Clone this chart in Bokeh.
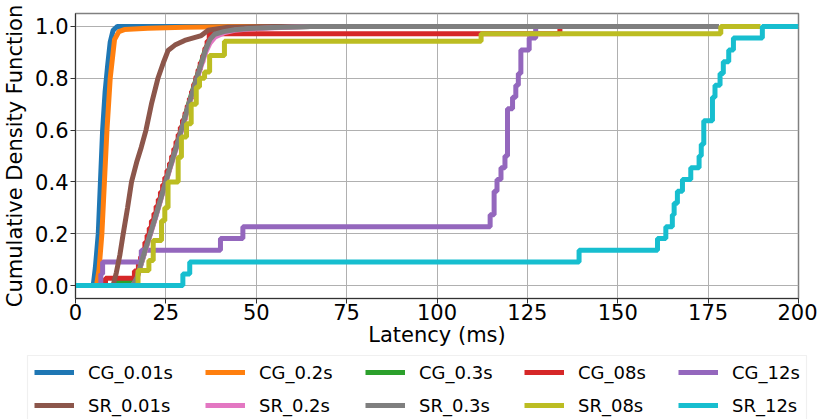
from bokeh.plotting import figure
from bokeh.models import (Range1d, FixedTicker, NumeralTickFormatter, Legend,
                          LegendItem, BoxAnnotation)
from bokeh.embed import file_html
from bokeh.resources import INLINE

# ---------------- data ----------------
cg001_x = [0, 4.9, 5.5, 6.3, 6.9, 7.5, 8.2, 8.9, 9.6, 10.4, 11.6, 175]
cg001_y = [0, 0, 0.07, 0.2, 0.4, 0.6, 0.75, 0.85, 0.94, 0.985, 1.0, 1.0]

cg02_x = [0, 5.8, 6.5, 7.3, 8.0, 8.7, 9.6, 10.8, 12.0, 13.5, 20, 30, 45, 170]
cg02_y = [0, 0, 0.06, 0.2, 0.4, 0.6, 0.8, 0.95, 0.98, 0.988, 0.993, 0.997, 1.0, 1.0]

cg03_x = [0, 10.8, 10.8, 16.3, 17.2, 18.0, 20, 22, 24, 26, 28, 30, 32, 34, 36,
          37.5, 39, 42, 46, 55, 65, 170]
cg03_y = [0, 0, 0.013, 0.013, 0.04, 0.075, 0.17, 0.26, 0.355, 0.45, 0.545, 0.64,
          0.735, 0.825, 0.915, 0.955, 0.975, 0.985, 0.99, 0.997, 1.0, 1.0]

cg08_x = [0, 8.3, 16.3, 17.4, 18.0, 18.6, 19.2, 19.8, 20.4, 21.0, 21.7, 22.3, 22.9,
          23.5, 24.1, 24.7, 25.3, 26.0, 26.6, 27.2, 27.8, 28.4, 29.0, 29.6, 30.3,
          30.9, 31.5, 32.1, 32.7, 33.3, 33.9, 34.5, 35.2, 35.8, 36.4, 37.0, 134, 175]
cg08_y = [0, 0.028, 0.056, 0.083, 0.111, 0.139, 0.167, 0.194, 0.222, 0.25, 0.278,
          0.306, 0.333, 0.361, 0.389, 0.417, 0.444, 0.472, 0.5, 0.528, 0.556, 0.583,
          0.611, 0.639, 0.667, 0.694, 0.722, 0.75, 0.778, 0.806, 0.833, 0.861, 0.889,
          0.917, 0.944, 0.972, 1.0, 1.0]

cg12_x = [0, 7.0, 7.5, 18.2, 40.1, 46.3, 114.7, 115.8, 116.6, 117.7, 118.8, 119.5,
          120.9, 121.8, 122.5, 123.2, 125.5, 127.3, 175]
cg12_y = [0, 0.045, 0.091, 0.136, 0.182, 0.227, 0.273, 0.364, 0.409, 0.455, 0.5,
          0.682, 0.727, 0.773, 0.818, 0.909, 0.955, 1.0, 1.0]

sr001_x = [0, 10.4, 11.3, 12.3, 13.2, 14.4, 15.5, 17.0, 18.2, 19.5, 21.0, 22.8, 24.3,
           25.6, 27.5, 30.2, 34.8, 36.7, 42.2, 55, 178]
sr001_y = [0, 0, 0.05, 0.12, 0.2, 0.3, 0.4, 0.48, 0.534, 0.6, 0.7, 0.8, 0.86, 0.907,
           0.928, 0.946, 0.965, 0.985, 0.997, 1.0, 1.0]

sr02_x = [0, 15.8, 17.0, 18.0, 20, 22, 24, 26, 28, 30, 32, 34, 36, 37.2, 38.5, 41,
          44, 48, 55, 65, 178]
sr02_y = [0, 0, 0.025, 0.075, 0.165, 0.255, 0.35, 0.445, 0.535, 0.63, 0.725, 0.815,
          0.9, 0.935, 0.958, 0.975, 0.985, 0.99, 0.995, 1.0, 1.0]

sr03_x = [0, 15.8, 17.0, 18.0, 20, 22, 24, 26, 28, 30, 32, 34, 36, 37.2, 38.5, 41,
          44, 48, 55, 65, 178]
sr03_y = [0, 0, 0.03, 0.08, 0.17, 0.26, 0.355, 0.45, 0.54, 0.635, 0.73, 0.82, 0.91,
          0.95, 0.97, 0.98, 0.987, 0.992, 0.996, 1.0, 1.0]

sr08_x = [0, 17.3, 20.3, 21.5, 23.8, 24.7, 25.6, 28.4, 29.3, 30.7, 32.0, 33.4, 34.3,
          35.7, 37.1, 41.2, 112.2, 178.5, 189.5]
sr08_y = [0, 0.058, 0.097, 0.174, 0.25, 0.30, 0.40, 0.495, 0.573, 0.624, 0.70, 0.766,
          0.80, 0.824, 0.888, 0.943, 0.972, 1.0, 1.0]

sr12_x = [0, 29.7, 31.6, 139.3, 161.0, 163.3, 165.1, 165.6, 166.5, 167.9, 170.2,
          172.5, 173.1, 173.8, 176.2, 176.9, 178.3, 179.2, 180.7, 182.0, 190.0, 200]
sr12_y = [0, 0.045, 0.091, 0.136, 0.182, 0.227, 0.273, 0.318, 0.364, 0.409, 0.455,
          0.5, 0.545, 0.636, 0.727, 0.773, 0.818, 0.864, 0.909, 0.955, 1.0, 1.0]

cg_names = ["CG_0.01s", "CG_0.2s", "CG_0.3s", "CG_08s", "CG_12s"]
sr_names = ["SR_0.01s", "SR_0.2s", "SR_0.3s", "SR_08s", "SR_12s"]
cg_colors = ["#1f77b4", "#ff7f0e", "#2ca02c", "#d62728", "#9467bd"]
sr_colors = ["#8c564b", "#e377c2", "#7f7f7f", "#bcbd22", "#17becf"]

x_ticks = [0, 25, 50, 75, 100, 125, 150, 175, 200]
y_ticks = [0.0, 0.2, 0.4, 0.6, 0.8, 1.0]

cg_series = [(cg001_x, cg001_y), (cg02_x, cg02_y), (cg03_x, cg03_y),
             (cg08_x, cg08_y), (cg12_x, cg12_y)]
sr_series = [(sr001_x, sr001_y), (sr02_x, sr02_y), (sr03_x, sr03_y),
             (sr08_x, sr08_y), (sr12_x, sr12_y)]
stepped = [False, False, False, True, True]

# ---------------- main figure ----------------
FONT = "DejaVu Sans"
LW = 5
p = figure(width=817, height=353, output_backend="svg", toolbar_location=None,
           x_range=Range1d(0, 200), y_range=Range1d(-0.05, 1.05),
           min_border_left=74, min_border_right=19, min_border_top=13,
           min_border_bottom=55)
p.background_fill_color = "white"
p.border_fill_color = "white"
p.outline_line_color = "#808080"
p.outline_line_width = 1.5

p.xaxis.ticker = FixedTicker(ticks=x_ticks)
p.yaxis.ticker = FixedTicker(ticks=y_ticks)
p.yaxis.formatter = NumeralTickFormatter(format="0.0")
for ax in (p.xaxis, p.yaxis):
    ax.major_label_text_font = FONT
    ax.major_label_text_font_size = "21px"
    ax.major_label_text_color = "black"
    ax.axis_label_text_font = FONT
    ax.axis_label_text_font_size = "21px"
    ax.axis_label_text_font_style = "normal"
    ax.axis_label_text_color = "black"
    ax.major_tick_out = 5
    ax.major_tick_in = 0
    ax.minor_tick_out = 0
    ax.minor_tick_in = 0
    ax.axis_line_color = "#333333"
    ax.major_tick_line_color = "#333333"
p.xaxis.axis_label = "Latency (ms)"
p.yaxis.axis_label = "Cumulative Density Function"
p.xaxis.major_label_standoff = 0
p.xaxis.axis_label_standoff = 0
p.yaxis.major_label_standoff = 2
p.yaxis.axis_label_standoff = 5

p.grid.grid_line_color = "#b0b0b0"
p.grid.grid_line_width = 1


def draw(fig, xs, ys, color, step, **kw):
    if step:
        return fig.step(xs, ys, mode="after", line_color=color, line_width=LW, **kw)
    return fig.line(xs, ys, line_color=color, line_width=LW, **kw)


for (xs, ys), c, s in zip(cg_series, cg_colors, stepped):
    draw(p, xs, ys, c, s)
for (xs, ys), c, s in zip(sr_series, sr_colors, stepped):
    draw(p, xs, ys, c, s)

# ---------------- legend strip (separate root, full-width frame) ----------------
LH = 66
q = figure(width=817, height=LH, output_backend="svg", toolbar_location=None,
           x_range=Range1d(0, 817), y_range=Range1d(0, LH),
           min_border_left=0, min_border_right=0, min_border_top=0,
           min_border_bottom=0)
q.axis.visible = False
q.grid.visible = False
q.outline_line_color = None
q.background_fill_color = "white"
q.border_fill_color = "white"

box = BoxAnnotation(left=27, right=806, top=LH - 2, bottom=-30,
                    fill_color="white", fill_alpha=0.0,
                    line_color="#cccccc", line_width=1.2)
q.add_layout(box)

# legend handles: same series, hidden in this strip
cg_h = [draw(q, xs, ys, c, False, visible=False) for (xs, ys), c in zip(cg_series, cg_colors)]
sr_h = [draw(q, xs, ys, c, False, visible=False) for (xs, ys), c in zip(sr_series, sr_colors)]

col_x = [34, 205, 365, 524, 678]
for i in range(5):
    leg = Legend(items=[LegendItem(label=cg_names[i], renderers=[cg_h[i]]),
                        LegendItem(label=sr_names[i], renderers=[sr_h[i]])],
                 location=(col_x[i], 3), orientation="vertical",
                 padding=0, spacing=11, margin=0,
                 glyph_width=40, glyph_height=22, label_height=22,
                 label_standoff=14, label_text_font=FONT,
                 label_text_font_size="18px", label_text_color="black",
                 border_line_alpha=0, background_fill_alpha=0,
                 inactive_fill_alpha=0)
    q.add_layout(leg)

open("out.html", "w").write(file_html([p, q], INLINE))
